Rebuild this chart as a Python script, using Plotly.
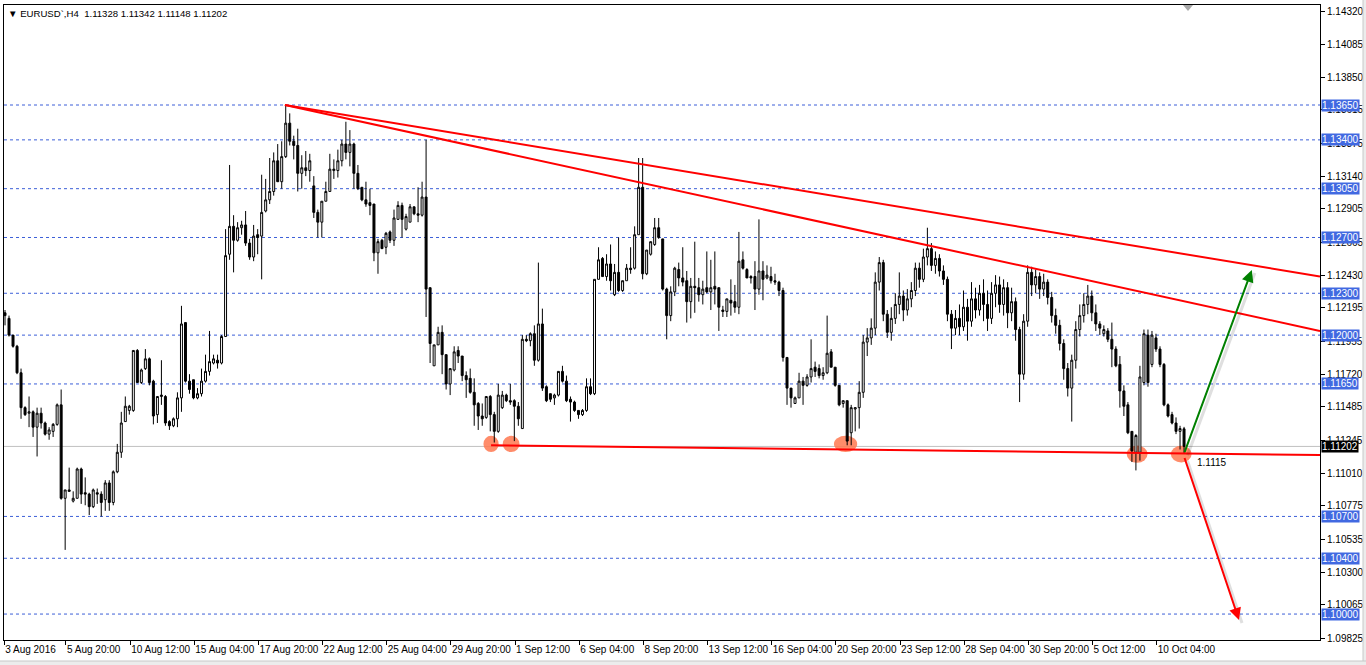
import plotly.graph_objects as go

# ---------------- data (EURUSD H4, bar index 0 = 3 Aug 2016 04:00) ----------------
opens = [1.1216,1.1212,1.1200,1.1192,1.1173,1.1148,1.1144,1.1145,1.1134,1.1144,1.1137,1.1129,1.1131,1.1136,1.1150,1.1083,1.1089,1.1081,1.1083,1.1104,
         1.1087,1.1086,1.1077,1.1087,1.1086,1.1082,1.1094,1.1080,1.1102,1.1116,1.1138,1.1146,1.1146,1.1189,1.1166,1.1176,1.1183,1.1167,1.1143,1.1156,
         1.1156,1.1138,1.1135,1.1140,1.1155,1.1209,1.1167,1.1168,1.1155,1.1158,1.1167,1.1174,1.1180,1.1182,1.1180,1.1199,1.1258,1.1278,1.1268,1.1277,
         1.1279,1.1266,1.1256,1.1272,1.1271,1.1289,1.1297,1.1303,1.1325,1.1310,1.1328,1.1352,1.1339,1.1336,1.1316,1.1320,1.1318,1.1307,1.1288,1.1281,
         1.1296,1.1303,1.1318,1.1318,1.1325,1.1337,1.1331,1.1337,1.1316,1.1306,1.1297,1.1295,1.1294,1.1259,1.1268,1.1263,1.1274,1.1268,1.1283,1.1293,
         1.1276,1.1281,1.1292,1.1287,1.1286,1.1299,1.1234,1.1178,1.1193,1.1202,1.1186,1.1165,1.1175,1.1189,1.1185,1.1171,1.1169,1.1159,1.1151,1.1142,
         1.1141,1.1156,1.1143,1.1131,1.1148,1.1157,1.1153,1.1153,1.1149,1.1133,1.1197,1.1196,1.1201,1.1182,1.1208,1.1163,1.1158,1.1155,1.1157,1.1174,
         1.1167,1.1154,1.1152,1.1146,1.1143,1.1146,1.1163,1.1158,1.1240,1.1255,1.1242,1.1251,1.1229,1.1245,1.1232,1.1239,1.1248,1.1248,1.1272,1.1306,
         1.1244,1.1258,1.1265,1.1277,1.1269,1.1233,1.1214,1.1231,1.1247,1.1241,1.1239,1.1224,1.1235,1.1234,1.1229,1.1234,1.1231,1.1235,1.1234,1.1218,
         1.1217,1.1225,1.1224,1.1220,1.1254,1.1247,1.1242,1.1242,1.1233,1.1246,1.1241,1.1242,1.1239,1.1238,1.1232,1.1184,1.1162,1.1151,1.1155,1.1167,
         1.1164,1.1170,1.1177,1.1176,1.1171,1.1173,1.1188,1.1177,1.1164,1.1151,1.1153,1.1130,1.1147,1.1148,1.1159,1.1195,1.1198,1.1205,1.1238,1.1252,
         1.1215,1.1202,1.1212,1.1222,1.1228,1.1218,1.1226,1.1232,1.1248,1.1240,1.1256,1.1262,1.1250,1.1255,1.1246,1.1240,1.1215,1.1205,1.1212,1.1206,
         1.1220,1.1210,1.1226,1.1218,1.1230,1.1222,1.1212,1.1230,1.1236,1.1222,1.1234,1.1216,1.1224,1.1204,1.1172,1.1210,1.1245,1.1236,1.1242,1.1233,
         1.1238,1.1227,1.1214,1.1207,1.1194,1.1176,1.1162,1.1182,1.1204,1.1214,1.1222,1.1228,1.1216,1.1208,1.1201,1.1203,1.1197,1.1190,1.1179,1.1160,
         1.1150,1.1131,1.1116,1.1116,1.1166,1.1200,1.1179,1.1198,1.1190,1.1179,1.1150,1.1143,1.1137,1.1131,1.11328]
highs = [1.1218,1.1214,1.1200,1.1193,1.1176,1.1149,1.1156,1.1146,1.1148,1.1148,1.1138,1.1134,1.1137,1.1151,1.1161,1.1089,1.1105,1.1088,1.1105,1.1105,
         1.1098,1.1087,1.1090,1.1090,1.1088,1.1096,1.1096,1.1103,1.1122,1.1145,1.1156,1.1150,1.1189,1.1190,1.1176,1.1190,1.1184,1.1168,1.1156,1.1182,
         1.1157,1.1139,1.1141,1.1159,1.1221,1.1209,1.1172,1.1168,1.1162,1.1176,1.1186,1.1203,1.1186,1.1186,1.1200,1.1276,1.1322,1.1286,1.1281,1.1282,
         1.1289,1.1269,1.1279,1.1276,1.1315,1.1312,1.1327,1.1331,1.1337,1.1339,1.1365,1.1359,1.1343,1.1348,1.1329,1.1332,1.1330,1.1314,1.1290,1.1296,
         1.1310,1.1330,1.1326,1.1333,1.1340,1.1353,1.1347,1.1338,1.1322,1.1306,1.1310,1.1305,1.1294,1.1269,1.1269,1.1274,1.1275,1.1290,1.1296,1.1295,
         1.1287,1.1294,1.1292,1.1306,1.1310,1.1340,1.1234,1.1193,1.1206,1.1207,1.1186,1.1176,1.1192,1.1192,1.1185,1.1174,1.1176,1.1169,1.1152,1.1151,
         1.1156,1.1157,1.1145,1.1165,1.1160,1.1158,1.1165,1.1154,1.1152,1.1200,1.1200,1.1202,1.1207,1.1252,1.1219,1.1164,1.1158,1.1158,1.1174,1.1178,
         1.1171,1.1156,1.1153,1.1146,1.1147,1.1169,1.1169,1.1240,1.1263,1.1256,1.1258,1.1265,1.1251,1.1270,1.1239,1.1251,1.1263,1.1278,1.1327,1.1327,
         1.1261,1.1267,1.1284,1.1284,1.1269,1.1234,1.1235,1.1249,1.1252,1.1263,1.1246,1.1241,1.1267,1.1241,1.1239,1.1260,1.1254,1.1260,1.1234,1.1221,
         1.1226,1.1240,1.1236,1.1274,1.1260,1.1248,1.1243,1.1253,1.1283,1.1253,1.1250,1.1249,1.1244,1.1239,1.1234,1.1184,1.1162,1.1156,1.1173,1.1170,
         1.1172,1.1197,1.1181,1.1179,1.1177,1.1214,1.1190,1.1177,1.1164,1.1153,1.1153,1.1150,1.1148,1.1167,1.1200,1.1205,1.1212,1.1245,1.1256,1.1254,
         1.1218,1.1220,1.1230,1.1245,1.1232,1.1233,1.1238,1.1252,1.1252,1.1262,1.1277,1.1266,1.1260,1.1258,1.1250,1.1242,1.1218,1.1218,1.1222,1.1232,
         1.1226,1.1238,1.1234,1.1236,1.1240,1.1232,1.1238,1.1243,1.1242,1.1240,1.1238,1.1234,1.1227,1.1206,1.1215,1.1250,1.1249,1.1247,1.1245,1.1244,
         1.1240,1.1231,1.1219,1.1211,1.1197,1.1180,1.1186,1.1210,1.1222,1.1230,1.1236,1.1232,1.1222,1.1210,1.1207,1.1205,1.1209,1.1192,1.1185,1.1164,
         1.1152,1.1131,1.1129,1.1178,1.1204,1.1204,1.1203,1.1201,1.1192,1.1180,1.1151,1.1145,1.1141,1.1135,1.11342]
lows = [1.1207,1.1199,1.1191,1.1172,1.1140,1.1142,1.1134,1.1127,1.1113,1.1133,1.1128,1.1125,1.1127,1.1135,1.1082,1.1046,1.1088,1.1080,1.1083,1.1079,
        1.1078,1.1071,1.1076,1.1079,1.1070,1.1074,1.1074,1.1078,1.1101,1.1112,1.1138,1.1143,1.1145,1.1166,1.1165,1.1175,1.1164,1.1136,1.1137,1.1150,
        1.1135,1.1132,1.1134,1.1134,1.1145,1.1166,1.1158,1.1154,1.1154,1.1156,1.1166,1.1171,1.1179,1.1176,1.1179,1.1199,1.1254,1.1245,1.1267,1.1272,
        1.1264,1.1254,1.1253,1.1258,1.1240,1.1288,1.1294,1.1300,1.1310,1.1305,1.1327,1.1336,1.1326,1.1303,1.1305,1.1314,1.1310,1.1284,1.1270,1.1270,
        1.1296,1.1303,1.1312,1.1313,1.1321,1.1326,1.1321,1.1305,1.1304,1.1296,1.1292,1.1286,1.1253,1.1244,1.1262,1.1258,1.1266,1.1264,1.1283,1.1270,
        1.1275,1.1281,1.1286,1.1281,1.1285,1.1213,1.1180,1.1178,1.1193,1.1172,1.1161,1.1157,1.1174,1.1180,1.1167,1.1155,1.1158,1.1135,1.1132,1.1135,
        1.1140,1.1131,1.1123,1.1130,1.1147,1.1152,1.1150,1.1124,1.1135,1.1133,1.1195,1.1192,1.1178,1.1181,1.1160,1.1152,1.1152,1.1150,1.1156,1.1166,
        1.1152,1.1138,1.1145,1.1140,1.1142,1.1145,1.1157,1.1157,1.1240,1.1242,1.1239,1.1232,1.1228,1.1231,1.1231,1.1239,1.1244,1.1247,1.1272,1.1240,
        1.1243,1.1257,1.1264,1.1269,1.1232,1.1197,1.1210,1.1228,1.1235,1.1235,1.1209,1.1212,1.1216,1.1224,1.1222,1.1230,1.1218,1.1222,1.1203,1.1213,
        1.1213,1.1214,1.1216,1.1215,1.1247,1.1241,1.1237,1.1218,1.1229,1.1225,1.1240,1.1237,1.1236,1.1228,1.1181,1.1150,1.1148,1.1151,1.1155,1.1150,
        1.1163,1.1166,1.1170,1.1169,1.1168,1.1172,1.1177,1.1163,1.1149,1.1148,1.1121,1.1121,1.1131,1.1133,1.1155,1.1185,1.1193,1.1200,1.1232,1.1210,
        1.1198,1.1196,1.1208,1.1215,1.1210,1.1214,1.1220,1.1228,1.1234,1.1238,1.1250,1.1246,1.1244,1.1242,1.1236,1.1210,1.1190,1.1200,1.1200,1.1203,
        1.1196,1.1206,1.1212,1.1214,1.1210,1.1203,1.1208,1.1220,1.1216,1.1214,1.1205,1.1210,1.1196,1.1152,1.1168,1.1206,1.1228,1.1230,1.1226,1.1228,
        1.1222,1.1209,1.1201,1.1189,1.1168,1.1156,1.1138,1.1176,1.1199,1.1209,1.1215,1.1210,1.1203,1.1200,1.1199,1.1195,1.1177,1.1177,1.1148,1.1142,
        1.1129,1.1109,1.1103,1.1110,1.1164,1.1163,1.1177,1.1188,1.1177,1.1149,1.1141,1.1136,1.1129,1.1118,1.11148]
closes = [1.1214,1.1200,1.1192,1.1173,1.1148,1.1143,1.1145,1.1134,1.1144,1.1137,1.1129,1.1132,1.1136,1.1150,1.1083,1.1089,1.1088,1.1083,1.1104,1.1086,
          1.1086,1.1077,1.1089,1.1086,1.1080,1.1094,1.1080,1.1102,1.1116,1.1137,1.1149,1.1149,1.1189,1.1166,1.1175,1.1183,1.1166,1.1142,1.1156,1.1157,
          1.1137,1.1135,1.1140,1.1155,1.1208,1.1167,1.1161,1.1155,1.1158,1.1167,1.1174,1.1181,1.1183,1.1180,1.1199,1.1257,1.1278,1.1268,1.1277,1.1279,
          1.1266,1.1256,1.1271,1.1270,1.1288,1.1297,1.1303,1.1325,1.1310,1.1328,1.1352,1.1339,1.1336,1.1316,1.1320,1.1318,1.1325,1.1288,1.1281,1.1296,
          1.1303,1.1319,1.1319,1.1325,1.1337,1.1331,1.1337,1.1316,1.1305,1.1297,1.1294,1.1293,1.1259,1.1267,1.1262,1.1273,1.1268,1.1284,1.1293,1.1283,
          1.1285,1.1292,1.1287,1.1286,1.1299,1.1233,1.1194,1.1193,1.1202,1.1186,1.1165,1.1176,1.1188,1.1185,1.1171,1.1168,1.1159,1.1150,1.1142,1.1140,
          1.1156,1.1143,1.1131,1.1157,1.1157,1.1153,1.1152,1.1149,1.1140,1.1197,1.1196,1.1201,1.1182,1.1208,1.1162,1.1153,1.1154,1.1157,1.1174,1.1167,
          1.1153,1.1152,1.1146,1.1143,1.1146,1.1163,1.1158,1.1240,1.1254,1.1242,1.1251,1.1239,1.1245,1.1232,1.1239,1.1248,1.1247,1.1272,1.1306,1.1244,
          1.1261,1.1267,1.1277,1.1270,1.1233,1.1214,1.1231,1.1248,1.1241,1.1238,1.1224,1.1235,1.1234,1.1229,1.1233,1.1231,1.1234,1.1233,1.1220,1.1217,
          1.1226,1.1223,1.1220,1.1253,1.1248,1.1241,1.1241,1.1233,1.1246,1.1240,1.1243,1.1239,1.1238,1.1232,1.1184,1.1162,1.1155,1.1155,1.1167,1.1164,
          1.1170,1.1176,1.1174,1.1171,1.1173,1.1187,1.1177,1.1164,1.1150,1.1153,1.1124,1.1148,1.1148,1.1159,1.1195,1.1198,1.1205,1.1238,1.1252,1.1215,
          1.1202,1.1212,1.1222,1.1228,1.1218,1.1226,1.1232,1.1248,1.1240,1.1256,1.1262,1.1250,1.1255,1.1246,1.1240,1.1215,1.1205,1.1212,1.1206,1.1220,
          1.1210,1.1226,1.1218,1.1230,1.1222,1.1212,1.1230,1.1236,1.1222,1.1234,1.1216,1.1224,1.1204,1.1172,1.1210,1.1245,1.1236,1.1242,1.1233,1.1238,
          1.1227,1.1214,1.1207,1.1194,1.1176,1.1162,1.1182,1.1204,1.1214,1.1222,1.1228,1.1216,1.1208,1.1205,1.1204,1.1197,1.1190,1.1178,1.1160,1.1149,
          1.1130,1.1117,1.1128,1.1170,1.1201,1.1166,1.1200,1.1190,1.1179,1.1150,1.1142,1.1137,1.1131,1.1133,1.11202]

date_labels = ["3 Aug 2016", "5 Aug 20:00", "10 Aug 12:00", "15 Aug 04:00", "17 Aug 20:00", "22 Aug 12:00",
               "25 Aug 04:00", "29 Aug 20:00", "1 Sep 12:00", "6 Sep 04:00", "8 Sep 20:00", "13 Sep 12:00",
               "16 Sep 04:00", "20 Sep 20:00", "23 Sep 12:00", "28 Sep 04:00", "30 Sep 20:00", "5 Oct 12:00",
               "10 Oct 04:00"]
label_step = 16
price_ticks = [1.14320, 1.14085, 1.13850, 1.13615, 1.13375, 1.13140, 1.12905, 1.12665, 1.12430, 1.12195,
               1.11955, 1.11720, 1.11485, 1.11245, 1.11010, 1.10775, 1.10535, 1.10300, 1.10065, 1.09825]
levels = [1.13650, 1.13400, 1.13050, 1.12700, 1.12300, 1.12000, 1.11650, 1.10700, 1.10400, 1.10000]
bid = 1.11202
# trend lines: (bar index, price)
res1 = [(69.8, 1.1365), (327.9, 1.1242)]
res2 = [(69.8, 1.1365), (327.9, 1.1203)]
support = [(121.2, 1.11210), (327.9, 1.11140)]
support_label = "1.1115"
lows_marked = [(121.2, 1.11220, 1.9, 0.00058), (126.2, 1.11220, 2.1, 0.00058), (209.6, 1.11220, 2.9, 0.00058),
               (282.3, 1.11147, 2.6, 0.00062), (293.3, 1.11147, 2.6, 0.00060)]
arrow_up = [(294.0, 1.1115), (310.9, 1.12467)]
arrow_dn = [(294.0, 1.1113), (307.7, 1.09958)]
header = "EURUSD`,H4  1.11328 1.11342 1.11148 1.11202"

# ---------------- figure ----------------
W, H = 1366, 665
ML, MR, MT, MB = 4, 46, 5, 25
X0, X1 = -0.25, 327.9
Y0, Y1 = 1.09814, 1.14367
FONT = "Liberation Sans, DejaVu Sans, sans-serif"
PW = W - ML - MR
PH = H - MT - MB
BARPX = PW / (X1 - X0)
PRICEPX = (Y1 - Y0) / PH


def px_x(p):  # pixel column -> paper x
    return (p - ML) / PW


def px_y(p):  # pixel row -> paper y
    return 1 - (p - MT) / PH


n = len(closes)
xs = list(range(n))

fig = go.Figure()
fig.add_trace(go.Candlestick(
    x=xs, open=opens, high=highs, low=lows, close=closes,
    increasing=dict(fillcolor="white", line=dict(color="black", width=1)),
    decreasing=dict(fillcolor="black", line=dict(color="black", width=1)),
    whiskerwidth=0, hoverinfo="skip", showlegend=False))

for pts in (res1, res2, support):
    fig.add_trace(go.Scatter(x=[p[0] for p in pts], y=[p[1] for p in pts], mode="lines",
                             line=dict(color="#ff0000", width=2), hoverinfo="skip", showlegend=False))

shapes = []
for lv in levels:
    shapes.append(dict(type="line", xref="paper", x0=0, x1=1, yref="y", y0=lv, y1=lv,
                       line=dict(color="#3c5fd8", width=1, dash="3px,3px"), layer="below"))
shapes.append(dict(type="line", xref="paper", x0=0, x1=1, yref="y", y0=bid, y1=bid,
                   line=dict(color="#c0c0c0", width=1), layer="below"))
for cx, cy, rx, ry in lows_marked:
    shapes.append(dict(type="circle", xref="x", yref="y", x0=cx - rx, x1=cx + rx, y0=cy - ry, y1=cy + ry,
                       fillcolor="rgba(255,120,80,0.85)", line=dict(width=0), layer="below"))
# chart-shift marker at the top
sx = X0 + (1188 - ML) / BARPX
shapes.append(dict(type="path", xref="x", yref="paper",
                   path=f"M {sx - 5 / BARPX},1 L {sx + 5 / BARPX},1 L {sx},{1 - 6 / PH} Z",
                   fillcolor="#a8a8a8", line=dict(width=0)))
# window frame strips (right and bottom)
shapes.append(dict(type="rect", xref="paper", yref="paper", x0=px_x(1363), x1=px_x(1367), y0=px_y(666), y1=px_y(-1),
                   fillcolor="#ececec", line=dict(color="#c8c8c8", width=1)))
shapes.append(dict(type="rect", xref="paper", yref="paper", x0=px_x(-1), x1=px_x(1367), y0=px_y(666), y1=px_y(661),
                   fillcolor="#ececec", line=dict(color="#c8c8c8", width=1)))

annotations = []
for lv in levels:
    annotations.append(dict(xref="paper", x=1, xanchor="left", xshift=1, yref="y", y=lv, yanchor="middle",
                            text=f"{lv:.5f}", showarrow=False, bgcolor="#4169e1",
                            font=dict(color="white", size=10, family=FONT), borderpad=0))
annotations.append(dict(xref="paper", x=1, xanchor="left", xshift=1, yref="y", y=bid, yanchor="middle",
                        text=f"{bid:.5f}", showarrow=False, bgcolor="black",
                        font=dict(color="white", size=10, family=FONT), borderpad=0))
annotations.append(dict(xref="x", x=support[0][0] + (1197 - 493) / BARPX, xanchor="left", yref="y", y=1.11085,
                        yanchor="middle", text=support_label, showarrow=False,
                        font=dict(color="black", size=10, family=FONT)))
# arrow shadows then arrows
for (x0, y0), (x1, y1) in ((arrow_up[0], arrow_up[1]), (arrow_dn[0], arrow_dn[1])):
    dx, dy = 3 / BARPX, -3 * PRICEPX
    annotations.append(dict(xref="x", yref="y", x=x1 + dx, y=y1 + dy, axref="x", ayref="y", ax=x0 + dx, ay=y0 + dy,
                            text="", showarrow=True, arrowhead=0, arrowwidth=3,
                            arrowcolor="rgba(0,0,0,0.12)"))
for (x0, y0), (x1, y1), col in ((arrow_up[0], arrow_up[1], "#008000"), (arrow_dn[0], arrow_dn[1], "#ff0000")):
    annotations.append(dict(xref="x", yref="y", x=x1, y=y1, axref="x", ayref="y", ax=x0, ay=y0,
                            text="", showarrow=True, arrowhead=2, arrowsize=1.2, arrowwidth=2, arrowcolor=col))
annotations.append(dict(xref="paper", yref="paper", x=px_x(6), y=px_y(13),
                        xanchor="left", yanchor="middle", showarrow=False,
                        text="\u25BC " + header, font=dict(color="black", size=9.6, family=FONT)))

tickvals = [k * label_step - 0.8 for k in range(len(date_labels))]
tickvals[0] = X0 + 0.05

fig.update_layout(
    width=W, height=H, margin=dict(l=ML, r=MR, t=MT, b=MB, autoexpand=False),
    paper_bgcolor="white", plot_bgcolor="white",
    shapes=shapes, annotations=annotations, showlegend=False,
    xaxis=dict(range=[X0, X1], rangeslider=dict(visible=False), showgrid=False, zeroline=False,
               tickvals=tickvals, ticktext=date_labels,
               tickangle=0, ticks="outside", ticklen=4, tickcolor="black", ticklabelposition="outside right",
               tickfont=dict(size=10, family=FONT, color="black"),
               showline=True, linecolor="black", linewidth=1, mirror=True),
    yaxis=dict(range=[Y0, Y1], side="right", showgrid=False, zeroline=False,
               tickvals=price_ticks, ticktext=[f"{v:.5f}" for v in price_ticks],
               ticks="outside", ticklen=4, tickcolor="black",
               tickfont=dict(size=10, family=FONT, color="black"),
               showline=True, linecolor="black", linewidth=1, mirror=True),
)

fig.write_html("out.html", config={"displayModeBar": False},
               post_script="document.body.style.margin='0';document.body.style.overflow='hidden';")
